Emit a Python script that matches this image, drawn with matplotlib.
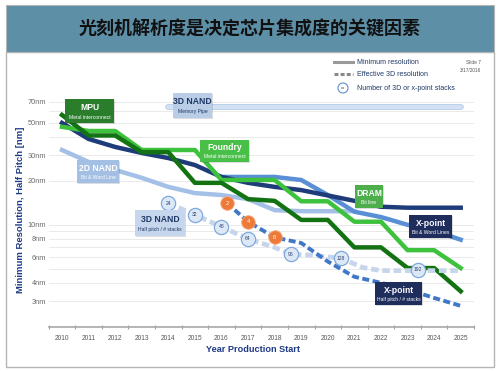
import matplotlib
matplotlib.use('Agg')
import matplotlib.pyplot as plt
from matplotlib import font_manager as fm
from matplotlib.patches import Rectangle, Circle
import matplotlib.patheffects as pe

# ---------------- data ----------------
years = list(range(2010, 2026))
dram_bit_line = [50, 38.8, 34.2, 31.1, 28.7, 25.7, 21.3, 19.4, 18.2, 17.3, 15.9, 14.6, 13.3, 13.1, 13.1, 13.1]
mpu_metal = [56.7, 41, 41, 31.5, 31.5, 19.4, 19.4, 15.0, 14.6, 10.8, 10.8, 7.0, 7.0, 5.05, 5.05, 3.5]
foundry_metal = [47, 44, 44, 32.6, 32.6, 32.6, 20.3, 20.3, 20.3, 14.5, 14.5, 10.5, 10.5, 6.7, 6.7, 5.05]

nand2d_years = list(range(2010, 2022))
nand2d_bwl = [32.6, 27, 23.8, 21, 18.2, 16.5, 16.0, 15.0, 12.6, 12.4, 12.4, 12.4]

xpoint_years = list(range(2016, 2026))
xpoint_bwl = [21.3, 21.3, 21.3, 20.3, 16.0, 12.3, 11.3, 10.0, 9.1, 7.9]

pipe_years = [2014, 2025]
pipe_vals = [64, 64]

nand3d_hp_years = [2014, 2015, 2016, 2017, 2018, 2018.6, 2019.3, 2020.5, 2021.3, 2022, 2025]
nand3d_hp_vals = [14.1, 11.7, 9.7, 8.0, 7.0, 6.3, 6.2, 5.9, 5.1, 4.85, 4.85]
nand3d_stack_years = [2014, 2015, 2016, 2017, 2018.6, 2020.5, 2023.4]
nand3d_stack_vals = [14.1, 11.7, 9.7, 8.0, 6.3, 5.9, 4.9]
nand3d_stack_labels = ['24', '32', '48', '64', '96', '128', '192']

xpoint_hp_years = [2016.2, 2017, 2018, 2019, 2020, 2021, 2022, 2023, 2024, 2025]
xpoint_hp_vals = [14.1, 10.5, 8.2, 7.5, 5.6, 4.4, 4.0, 3.6, 3.15, 2.78]
xpoint_stack_years = [2016.2, 2017, 2018]
xpoint_stack_vals = [14.1, 10.5, 8.2]
xpoint_stack_labels = ['2', '4', '8']

ytick_vals = [3, 4, 6, 8, 10, 20, 30, 50, 70]
ytick_labels = ['3nm', '4nm', '6nm', '8nm', '10nm', '20nm', '30nm', '50nm', '70nm']
grid_vals = [3, 4, 5, 6, 7, 8, 9, 10, 20, 30, 40, 50, 60, 70]

title = '光刻机解析度是决定芯片集成度的关键因素'

# ---------------- fonts ----------------
def has(f):
    try:
        fm.findfont(fm.FontProperties(family=f), fallback_to_default=False)
        return True
    except Exception:
        return False

NARROW = 'Liberation Sans Narrow' if has('Liberation Sans Narrow') else 'Liberation Sans'
CJK = 'Noto Sans CJK SC'
NAVY = '#1f3a86'

W, H = 500, 371
fig = plt.figure(figsize=(W / 100, H / 100), dpi=100)
fig.patch.set_facecolor('white')

# background layer (pixel coordinates)
bg = fig.add_axes([0, 0, 1, 1], zorder=0)
bg.set_xlim(0, W); bg.set_ylim(H, 0); bg.axis('off')
bg.add_patch(Rectangle((6, 52), 488, 315, facecolor='white', edgecolor='#b5b5b5', lw=1.0))
bg.add_patch(Rectangle((6, 5), 488, 47, facecolor='#5d8fa7', edgecolor='#b5b5b5', lw=0.8))
bg.text(250, 29, title, ha='center', va='center', fontsize=13, fontweight='bold',
        color='#111111', family=[CJK, 'DejaVu Sans'])

# ---------------- main axes ----------------
x0, x1, ytop, ybot = 48.7, 474, 85, 327
ax = fig.add_axes([x0 / W, (H - ybot) / H, (x1 - x0) / W, (ybot - ytop) / H], zorder=1)
ax.patch.set_alpha(0)
ax.set_yscale('log')
ax.set_xlim(2009.5, 2025.5)
ax.set_ylim(1.99, 91)

for g in grid_vals:
    ax.axhline(g, color='#e6e6e6', lw=0.6, zorder=0)

ax.set_yticks(ytick_vals)
ax.set_yticklabels(ytick_labels)
ax.yaxis.set_minor_locator(matplotlib.ticker.NullLocator())
ax.set_xticks(years)
ax.set_xticklabels([str(y) for y in years])
ax.set_xticks([y - 0.5 for y in years] + [2025.5], minor=True)
ax.tick_params(axis='y', length=0, labelsize=5.3, labelcolor='#6b6b6b', pad=2)
ax.tick_params(axis='x', which='major', length=0, labelsize=4.8, labelcolor='#595959', pad=6)
ax.tick_params(axis='x', which='minor', length=2.5, color='#a0a0a0', width=0.8, direction='inout')
for lab in ax.get_xticklabels() + ax.get_yticklabels():
    lab.set_family(NARROW)
for s in ['left', 'right', 'top']:
    ax.spines[s].set_visible(False)
ax.spines['bottom'].set_color('#a8a8a8')
ax.spines['bottom'].set_linewidth(1.2)

ax.set_xlabel('Year Production Start', family=NARROW, fontsize=6.6, fontweight='bold',
              color=NAVY)
ax.xaxis.set_label_coords(0.48, -0.075)
ax.set_ylabel('Minimum Resolution, Half Pitch [nm]', family=NARROW, fontsize=6.8,
              fontweight='bold', color=NAVY)
ax.yaxis.label.set_va('center')
ax.yaxis.set_label_coords(-0.066, 0.483)

LW = 3.2
ax.plot(pipe_years, pipe_vals, color='#d2e1f4', lw=3.0, solid_capstyle='round', zorder=2,
        path_effects=[pe.Stroke(linewidth=4.0, foreground='#a9c3e4'), pe.Normal()])
ax.plot(nand2d_years, nand2d_bwl, color='#a4c0e6', lw=LW, zorder=2)
ax.plot(xpoint_years, xpoint_bwl, color='#5a8fd6', lw=LW, zorder=3)
ax.plot(years, dram_bit_line, color='#1f3c7a', lw=LW, zorder=4)
ax.plot(years, foundry_metal, color='#3ec23e', lw=LW, zorder=5)
ax.plot(years, mpu_metal, color='#137313', lw=LW, zorder=6)
ax.plot(nand3d_hp_years, nand3d_hp_vals, color='#c6d5ea', lw=3.4,
        linestyle=(0, (1.6, 0.8)), zorder=7)
ax.plot(xpoint_hp_years, xpoint_hp_vals, color='#4078c8', lw=2.8,
        linestyle=(0, (1.8, 0.9)), zorder=7)

ax.scatter(nand3d_stack_years, nand3d_stack_vals, s=105, facecolor='#dde8f7',
           edgecolor='#7ea8dc', lw=0.9, zorder=8)
for xv, yv, t in zip(nand3d_stack_years, nand3d_stack_vals, nand3d_stack_labels):
    ax.text(xv, yv, t, ha='center', va='center', fontsize=3.6, color='#2a3f6e',
            family=NARROW, zorder=9)
ax.scatter(xpoint_stack_years, xpoint_stack_vals, s=95, facecolor='#ee7a3a',
           edgecolor='#f4a77a', lw=0.6, zorder=8)
for xv, yv, t in zip(xpoint_stack_years, xpoint_stack_vals, xpoint_stack_labels):
    ax.text(xv, yv, t, ha='center', va='center', fontsize=4, color='white',
            family=NARROW, zorder=9)

# ---------------- foreground annotation layer ----------------
fg = fig.add_axes([0, 0, 1, 1], zorder=3)
fg.set_xlim(0, W); fg.set_ylim(H, 0); fg.axis('off')

def box(x_0, y_0, x_1, y_1, fc, head, sub, tc, hs=6.2, ss=3.6):
    fg.add_patch(Rectangle((x_0 + 1, y_0 + 1), x_1 - x_0, y_1 - y_0, facecolor='#00000022',
                           edgecolor='none'))
    fg.add_patch(Rectangle((x_0, y_0), x_1 - x_0, y_1 - y_0, facecolor=fc,
                           edgecolor='none'))
    cx = (x_0 + x_1) / 2
    h = y_1 - y_0
    fg.text(cx, y_0 + h * 0.36, head, ha='center', va='center', fontsize=hs,
            fontweight='bold', color=tc, family=NARROW)
    fg.text(cx, y_0 + h * 0.76, sub, ha='center', va='center', fontsize=ss,
            color=tc, family=NARROW)

box(65, 99, 114, 123, '#2a7d2a', 'MPU', 'Metal interconnect', 'white')
box(173, 93, 212, 118, '#b9cde6', '3D NAND', 'Memory Pipe', '#1f3864')
box(200, 140, 249, 162, '#48c048', 'Foundry', 'Metal interconnect', 'white')
box(77, 160, 119, 183, '#a3bfe3', '2D NAND', 'Bit & Word Line', 'white')
box(135, 210, 185, 236, '#c6d6ec', '3D NAND', 'Half pitch / # stacks', '#1f3864')
box(355, 185, 383, 208, '#4caf4c', 'DRAM', 'Bit line', 'white')
box(409, 215, 452, 238, '#1f2d5c', 'X-point', 'Bit & Word Lines', 'white')
box(375, 282, 422, 305, '#1f2d5c', 'X-point', 'Half pitch / # stacks', 'white')

# legend
fg.plot([334, 353], [62, 62], color='#9a9a9a', lw=2.2)
fg.plot([334, 353], [74, 74], color='#8a8a8a', lw=2.2, linestyle=(0, (1.3, 0.7)))
fg.add_patch(Circle((343, 88), 5, facecolor='white', edgecolor='#5b8fd0', lw=0.8))
fg.text(343, 88, 'xx', ha='center', va='center', fontsize=3, color='#1f3864', family=NARROW)
for yy, t in [(62, 'Minimum resolution'), (74, 'Effective 3D resolution'),
              (88, 'Number of 3D or x-point stacks')]:
    fg.text(357, yy, t, ha='left', va='center', fontsize=5.0, color='#1f3864', family=NARROW)
fg.text(481, 62, 'Slide 7', ha='right', va='center', fontsize=3.4, color='#555555', family=NARROW)
fg.text(481, 70, '3/17/2016', ha='right', va='center', fontsize=3.4, color='#555555', family=NARROW)

fig.savefig('out.png', dpi=100)
